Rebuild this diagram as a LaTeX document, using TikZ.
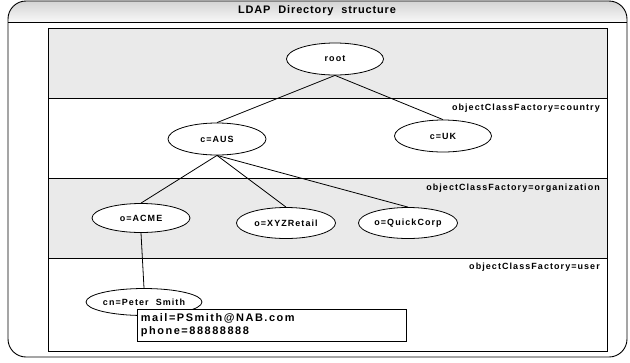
\documentclass[tikz,border=0pt]{standalone}
\usepackage{fontspec}
\setmainfont{Liberation Sans}
\newfontfamily\lblfont{Liberation Sans}[BoldFont={Liberation Sans Bold}, LetterSpace=12]
\newfontfamily\boxfont{Liberation Sans}[BoldFont={Liberation Sans Bold}, LetterSpace=14]
\newfontfamily\titlefont{Liberation Sans}[BoldFont={Liberation Sans Bold}, LetterSpace=8]
\usetikzlibrary{shapes.geometric}
\definecolor{band}{RGB}{234,234,234}
\definecolor{hdrtop}{RGB}{212,212,212}
\definecolor{hdrbot}{RGB}{248,248,248}
\tikzset{
  entry/.style={ellipse, draw=black, line width=0.8bp, fill=white, inner sep=0pt,
    minimum width=98bp, minimum height=31bp,
    font=\lblfont\bfseries\fontsize{9}{10}\selectfont},
  classlabel/.style={anchor=east, inner sep=0pt, font=\lblfont\bfseries\fontsize{9}{10}\selectfont},
  edge/.style={draw=black, line width=0.8bp},
  frame/.style={draw=black, line width=0.9bp}
}
\begin{document}
\begin{tikzpicture}[x=1bp,y=-1bp]
\useasboundingbox (0,0) rectangle (630,362);
% outer frame
\fill[white, rounded corners=18bp] (8,1) rectangle (627,357);
\begin{scope}
  \clip[rounded corners=18bp] (8,1) rectangle (627,40);
  \shade[top color=hdrtop, bottom color=hdrbot] (8,1) rectangle (627,22);
\end{scope}
\draw[frame, rounded corners=18bp] (8,1) rectangle (627,357);
\draw[frame] (8,22) -- (627,22);
\node[inner sep=0pt, font=\titlefont\bfseries\fontsize{11}{12}\selectfont] (title) at (317,11) {LDAP\ \ Directory\ \ structure};
% bands
\fill[band] (48,28) rectangle (607,98);
\fill[white] (48,98) rectangle (607,178);
\fill[band] (48,178) rectangle (607,258);
\fill[white] (48,258) rectangle (607,351);
\draw[frame] (48,98) -- (607,98);
\draw[frame] (48,178) -- (607,178);
\draw[frame] (48,258) -- (607,258);
\draw[frame] (48,28) rectangle (607,351);
\node[classlabel] (lc) at (600,108) {objectClassFactory=country};
\node[classlabel] (lo) at (600,188) {objectClassFactory=organization};
\node[classlabel] (lu) at (600,267) {objectClassFactory=user};
% nodes
\node[entry, minimum width=97bp, minimum height=32bp] (root) at (335,59) {root};
\node[entry, minimum height=32bp] (aus) at (217,139) {c=AUS};
\node[entry, minimum width=97bp, minimum height=32bp] (uk) at (443,136) {c=UK};
\node[entry, minimum height=29bp] (acme) at (141,218) {o=ACME};
\node[entry, minimum width=99bp] (xyz) at (286,223) {o=XYZRetail};
\node[entry, minimum width=99bp] (quick) at (408,223) {o=QuickCorp};
\node[entry, minimum width=99bp, minimum height=27bp] (cn) at (144,302) {cn=Peter\ \ Smith};
% edges
\draw[edge] (root.south) -- (aus.north);
\draw[edge] (root.south) -- (uk.north);
\draw[edge] (aus.south) -- (acme.north);
\draw[edge] (aus.south) -- (xyz.north);
\draw[edge] (aus.south) -- (quick.north);
\draw[edge] (acme.south) -- (cn.north);
% attribute box
\node[draw=black, line width=0.9bp, fill=white, anchor=north west, minimum width=269bp, minimum height=32bp,
  inner xsep=3bp, inner ysep=2bp, align=left, text width=262bp,
  font=\boxfont\bfseries\fontsize{11}{13}\selectfont] (attrs) at (137,309)
  {mail=PSmith@NAB.com\\phone=88888888};
\end{tikzpicture}
\end{document}
